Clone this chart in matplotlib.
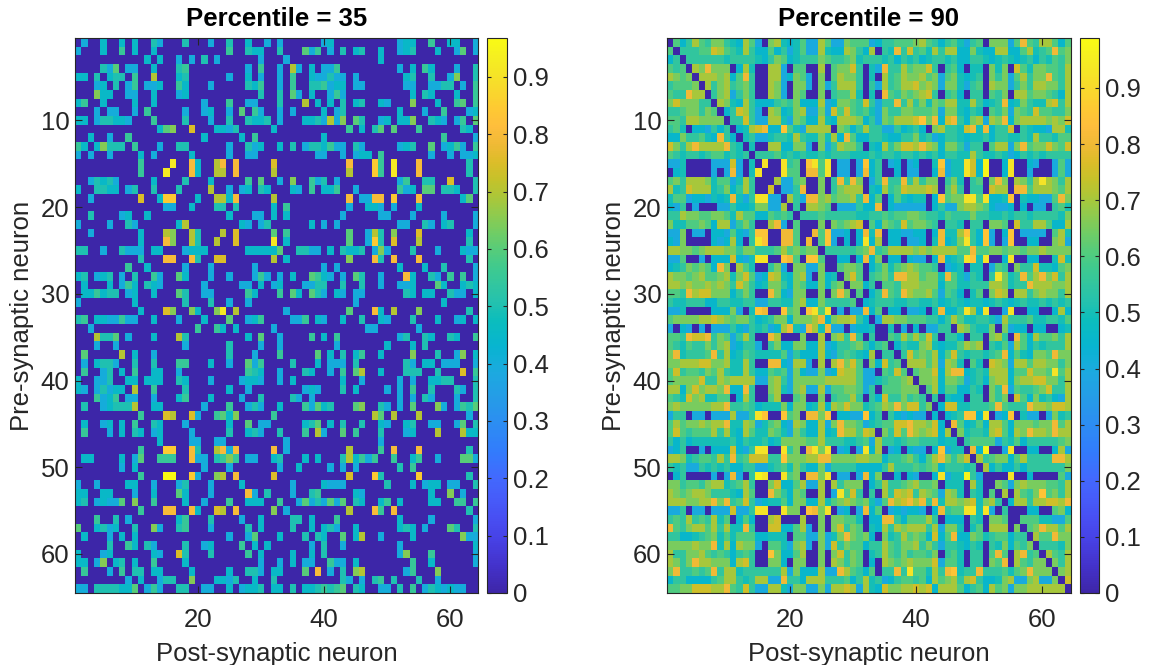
import matplotlib
matplotlib.use("Agg")
import matplotlib.pyplot as plt
import numpy as np
from matplotlib.colors import LinearSegmentedColormap

plt.rcParams['font.family'] = ['Liberation Sans', 'DejaVu Sans']

TITLES = ["Percentile = 35", "Percentile = 90"]
XLABEL = "Post-synaptic neuron"
YLABEL = "Pre-synaptic neuron"
XTICKS = [20, 40, 60]
YTICKS = [10, 20, 30, 40, 50, 60]
CBAR_TICKS = [0, 0.1, 0.2, 0.3, 0.4, 0.5, 0.6, 0.7, 0.8, 0.9]
CBAR_LABELS = ["0", "0.1", "0.2", "0.3", "0.4", "0.5", "0.6", "0.7", "0.8", "0.9"]
VMAX = [0.968, 0.989]

# one letter per cell
LEVELS = {'.': 0.0, 'a': 0.40, 'b': 0.45, 'c': 0.50, 'd': 0.55, 'e': 0.60, 'f': 0.65,
          'g': 0.70, 'h': 0.75, 'i': 0.80, 'j': 0.85, 'k': 0.92, 'l': 0.97}

LEFT_ROWS = [
".a..b..b .b..ca.. .c...a.. c..b..a. a......a b....... ...abb.. d..bb..a",
"a...b..d .b..b... ........ d..cbb.. c...ead. a.c.bc.. b..abc.. .b..ae.a",
"........ ...b.b.. a.a.c.a. .....a.. .a...... ........ b....... ........",
"....cae. aa..b... cd...... ...a.d.. a.ga.b.a ad...... ...a.b.d b...a..c",
"bb.c.bcc .d..g... bc...... a..b.a.. a.d..baa caa.a... ....bc.. c..af..c",
"...ab.c. ad.aab.. db...a.. ...cbd.. a.d..ccd abb.aa.. ....aa.. aacc.a.d",
"...fbb.. aa..b... ab...... .....c.. c.ea.b.. ada..... .....b.c b...b..d",
"bd..b... .b..b... ....a... d..aa... c...g.b. b.c.bc.. ba...f.. .b..de.d",
"...a.aa. .a.d.... .a..ab.. a.e.da.. a.a....b .ac..... ...b...a ..d...ab",
"bb.accbb a...d... .c...a.. c..cbbc. a...bbca gaf.ec.. ab.bbf.. cba.ad.e",
"........ .....bef ..h...bb ac.....b ........ ...d.b.c e.e...d. .....cb.",
"..b..a.. d....... ....b... ..b.d... .......b ........ ........ ..d....a",
"db.bfccc .d...a.. cc...... a..cab.. b.c.accb daa.ca.. ...abc.. e.abda.d",
"a.a..a.. ..b.a... ..b..... a..aa... ......aa ..a.abb. d....... a..a.aab",
"........ ..d....k ..ib..gi .i.....h ........ ...i...j d.k...i. ......c.",
"........ ..d...k. ..ib..gg .i.....g ........ ...g...j d.k...i. ......c.",
"..acbca. ....b... .c...b.. ...d.e.. a.f..dac .a...... ...ad..c c..h...c",
"b..ccbb. ac..c... c....g.. a.ab.cb. ..ba.d.b bd..a... ...dab.e e.ccb..c",
"..a..... ..h..bjj ...b..gg bi.....g ........ ...i.aai i.j...i. .....be.",
"........ ......aa ..b...cc .c.....b .d...... ...a..bb a.a...b. ........",
"..c....a b..b.... ........ b...aa.b .b...... ..a..... aa...a.. ..a....a",
"a....a.. ca...... bg...... ..ba.ac. .....b.a .a...... ...aa..c a.bc...a",
"..a..... ..b...gf ..gc...g .h.....e .d...... ...e..ag c.f...h. ......b.",
"........ ..b...if ..gc..g. .h.....k .b...... ...e..aj c.h...g. ......c.",
"cc..a..c aaa.bb.. .abbb... ...bbbbb e..ccaa. b.cbbc.a fa...c.. .a...baa",
"........ ..c...ii ..ic..hh .......g .b...... ...f...i c.i...i. ......c.",
"........ d..b.... .a...a.. ....a... .......a .a...... ...b...b ..c....a",
"bc.abc.a .c..da.. eb...a.. a...ada. a.b..edb a.a.ec.. a...ib.. ca.d.d.a",
".b...b.a db.cba.. ....a... ..aa.b.a b...aacc ..c..c.. a..aab.. .eb..bcb",
".bbdbcc. ab..b... ec..aa.. ...db... d.eb.eca .ba.aa.. ....cb.b b..caa.b",
"a....... .b...... .c...c.. a..a.... ........ ....a... ........ ..b.....",
"........ ..b...hf ..fb..fk .g...... .a...... ...e...i b.g...f. ......c.",
"cd.bbaad aa..b... a...b... e..abd.. ..aad.ba ..b..c.. ba...c.. .b..ab.b",
"..a..... ........ ...d..db .b.....a ........ ......aa ......a. ........",
"...gcce. a...b... gc...... ...b.e.. a....d.b .d...... ...ac..c b..cb..d",
"...a..a. ........ .a...... c....a.. a....... .a...... .b...b.c ........",
".e.....g .b..a... ........ c...a... d.....e. b.c.bd.. b....f.. .c..af.b",
".a.bcca. .c..c... dd...b.. a..ead.. ..c...b. aaa.c... ....ca.b b.aaa..a",
".d..ac.b .d..bb.. a....... ...dcb.. a...cb.. a.d.eg.. b...ccc. .c...h.d",
"b..aac.. bb.bbb.. cb...a.. ..abba.. a.b..... ..b..a.. ...a.a.. bbcc...c",
"ba.acabb .g..d... .c...... b..a.... ....aba. ..c.b... .a.a.d.. c...ca.c",
"...dabd. aa..a... bd...b.. ..a..c.. ..ca.a.. ........ ...a.a.c a...a..c",
".c..abcc cg..bb.. ....a... d..aca.. b...daeb c...ef.. ca.a.e.. .fa.adce",
"........ ..d...hg ..ha..de bf.....d ........ .......g e.g...g. ......a.",
".b..ab.b .d..cb.. .a...... b..e.aa. ....bce. b.c..c.. ba..bc.. aa..ae.c",
".d...a.b .cb.ab.. ..a..... c..bca.. c...d.ga ..e.d... c...ab.. .g...gbb",
"........ .....b.. ..aa..aa ........ .a...... ........ a....... ........",
"........ ..d...jj ..ic..gi ai.....i .a...... ...g.... d.i...i. ......c.",
".bb....b .ae..ddd ..iaa.cd fd.aa..b c...b.b. ..cgbdad ..d..bd. .a...eea",
".......a .b...... ....a... a....... a..b.... a.a.a... ...c.d.. ........",
"........ ..d...ll ..ja..fg .i.....h ........ ...h...j c.....j. ......c.",
"a..a.... bb..a... ac...a.. ..b..... ..a....b aaa..... .c...b.a bb.aa..c",
"bb..bb.. .a..b... eb...a.. ...ia.c. ..a..cd. ....ba.. ........ b..f.a..",
"bc.abaae .f..d... .b..a... d..bbb.. d..aeaca eae.cb.. bd.b.... bb..dd.d",
"........ ..d...ii ..ib..hg .i.....f .a...... ...g...i d.i..... ......c.",
"...d..c. a....... bd...c.. ..a..b.. ..cc.b.. .d...... ...b.... a......a",
"e..bcab. .c..fa.. cd...a.. ...c.b.. ..c..b.b ca..b... ...bcb.a ...ec..c",
".b...a.b .b...... ........ a..ae... b...c.cb ..e.bg.. a....b.. .....faa",
".....c.. db.ca... .c..ab.. ..d.b.b. .....a.c ..a..... ...a.... .......b",
"b...ab.. ....ba.. hc...c.. ...d.b.. ..b..b.c ........ ...af... d......a",
"bb.af.bc .b..d... .b...... .....a.. a.b.aa.. daa.b... .....d.. b......a",
".d...a.d .cc.bb.. ..b..... b..cca.b b...e.i. a.c.fg.. ....ad.. .f......",
"........ a.b..acc ..f...bb ac..b..c ........ ..ca.a.c d.c...c. .a......",
"aa.ccccb be.ada.. cc..aa.. b.abbc.b b.c.bbcd cde.cb.. aa.c.d.a cbabaa..",
]

RIGHT_ROWS = [
".ebdgedf fdcbgea. fgcbceaa geaafeee abddeeef gedbdeca de.fffae iedggebe",
"e.dddeeh gedcgdbb ebdaceaa gcbbgfdb g.dcidhd ecgdggbb fcbbggbb egcdeief",
"bd.ddddd dcddddcb dfebcddd feddefcd ddcdbdcd bcddcdbb ddcbcdcb cdbdcedf",
"ede.gfif ff.bgc.. gga.ee.. g.effhd. caiddgef fhd.deb. cc.fcf.h ecffeedg",
"gfef.ggg fgbeid.. ggabfea. f.egffd. c.gdegff gefaefcb cd.fdfae gdffiedg",
"deeef.gd fgdefd.. gfa.ffa. fadgggd. dagdeggh fgfaffca de.gffad fdggffdg",
"eddigg.d fgadfd.. gfa.fe.. f.deegc. c.iedfef ghd.deb. dd.edf.g geffedbg",
"fhfffdd. gfcbgdbb bdedfbbb gabffedh daddidgd fcfeggcc gdbcdibc fdccghdg",
"ddeffdfe .bdhgda. gfbcfgaa fahehede cafddffe eefaffcb dc.edfaf edheeddf",
"eedggfff f.ddhdaa ggcafebb gcbgggfb dafegggh jfibhidb fgagfibf ggggfgfh",
"dec.bbad bd.bcghi bbjecagg gg.febdg ddaadbcd b.fgddch icibddh. dcbbaggc",
"bbfddecb idb.cdaa cddcgdcc fcgbiebb ddcbbddf cdabddcb ccdbddcc dcgddcee",
"hfdgiggg gidc.c.. ggbbffa. fadgffd. cbgdfhhg igfbffda dd.eggaf ieffhfeh",
"edcddcde ecdcd.dd decdcdcc dcdddccc dcddcddc dcdbddcc gdccdcab dcdcdddd",
"aac....a aaha.c.k ..kde.jk ek.aa.aj bd.ab.ab ..cjacck hbl..bk. .ba..aea",
".bc....a .aia.ck. ..kee.ii ek.aa.ai bd..b.aa ..biacck hbl..bk. .a...aea",
"efdgggfc eeacgd.. .gaaef.. f.didif. adiddidg dff.dfc. de.fif.g fdgkgfdg",
"gcdhgggc dfbdgd.. h.aadi.. f.dfggg. cbgdehgg ghg.egd. dd.hgg.i iegggfeg",
"ceeabbac bcicadkk aa.gdaii fgeffgdi be.becbc c.bjeffk kekbbcj. cbbaaeif",
"bad.a... aadbbcff aag.d.gg fe.aaadb bi.baaaa a.bdaafg gfebaab. b.aa.dec",
"ddgffeef fecgeebb eded.ddd edddddcc ddedeeff eddceddd fddccdcd dcddddcf",
"fcceefeb ggadfd.. gia.e... f.fefgh. ebfedhef fed.ddc. dd.ffe.h ddggebbg",
"aaf.aa.b baebadjj ..iie..i ejaab.bi ci.bbaab b.biccgj dbja.bj. aaaa.egc",
"baf....b abgb.dkj ..iie.i. eja.b.bk bg.bb.aa b.cibcfk dbja.aj. .bb..fga",
"ggffefgg gffdffdd degefeff .dddddef ideggggf gfggggee ieeffeff effgffff",
"aae..a.b bbhbackk ..jie.jj e..bb.bi bf.bb.ba a.bibcdk jck..bk. .bb..chc",
"bcdfefeb if.gec.. dfa.ffaa f..effe. bdfcefgf eed.abc. cc.aed.f ddhccbef",
"gffefgee fgcfheab hgcbfga. fbc.fhe. defdiigg effcieca dc.dkfcd iegifhdg",
"ggfgffgf gfdhfdbc ffdbfebb fbef.ffb d.eedggg fffbeecc dddggfcd digggffg",
"eedighhf ffbdfd.. ifbaff.. f.fif.e. bdiedigf fgeaedb. ce.fhg.g gdfgffdg",
"dccdddbb ddccddaa ddccfgbb fdddde.b cdddccdd ccdbcdcb ccbcdcbc dccdcdcd",
"aac....b bbfa.cji ..jef.jk ek.a.aai be.bb.aa b.cibbdk gbk..ak. .bb..bgb",
"effffggh gfeffdbc dffbfffg ibfgghdb .aggffee eddbdgec cddcagdd deccddce",
"a.ba.a.a aadbadcd abgicaig ciaa.abb c..c.a.b .aadd.gf dccf.fab b.bb..bc",
"eedihhid feadgd.. ig...f.. g.fgdid. d..edgeg ehd.ddb. dd.fgd.i ebgeefdg",
"edceddfd fgabdda. dfbbffbb gabddefd bde.bdcc fgcbcceg fg.dceag ebdcdddg",
"ficdddei dgbcedcc cceadbbb gbadedcb g.dd.dhe fegbehdc ddcdeibe cbffeiff",
"ffggghhf fgccgd.. iibagga. g.gifhe. fbhde.gg gegagfc. ec.hgfag geggffdf",
"ehdeedfe gdccgdbb edeafbaa fabhggea a.edhe.e ffhbgiib cdcgggbe ehffekeg",
"effffhdd gfggggaa fgdaffff fgggggea acdeefg. ffgbffea cdbfggbf gghhffdg",
"ggbfhfgg fibbid.. fgcafgaa gaeeffea d.eeefff .egbeebb dc.fdiae ddefhddg",
"edchfgcc ee.bgd.. eg..ef.. f.deegd. dbhddfde d.d.cbb. dd.fdf.h ebfcdbag",
"fgfffffg giddedbc ccfbffbc gbgfhffc degfifhh df.bhhcc dddeiedd diggfhhg",
"add.aa.a aagaadkj ..jef.ii fj.bbaaj bd.dbaba a.b.bcdj jbk.abj. caa.afcd",
"egeffgfg giccgfac efbagfbb gafiffea cdeehhig gfhb.ieb cebggebf ffeffieg",
"ehedeeeg dgcbgecc fecafdbb gbciggeh g.fdheig fghbg.fc ddcghebg figgfigg",
"dbdbcccc ccdbdccd bcffffee gdddccde agddcdee dddbcc.d eeeeadce bdddddef",
"abd..a.b bbhbadkk ..kdf.ik fk.ab.ak bg.ab.ba a.bjacc. ibl..ak. .bb..bga",
"ggfcdeed gdidehhh ddjfffgg iiffffgg ffbddefd begifdfh .gdeffbe gddddiig",
"dcdaadcd cdbbddaa cdecfdbb faddddbb bbdgddde defbdddc d.gbdbbd bddddddf",
".bd....a .aia.dlk ..kef.ii fk.aa.ai bf..b.ba ..bkaccl da....k. .b....ea",
"ffdeedfg gcdegd.. fhbbegaa g.gdfff. bdgddefg eef.ccc. gc..feaf gfffeedg",
"gfefggfd ddcbge.. ifdbfe.. g.akehd. d.gdhghd gfeagfc. dc.e.g.g edfjefdg",
"gggffggi fidehdab ccebffbb gcefgfef caeighig idicggfg hcfgd.bg gdgghhgi",
"aad.aa.a aahaadkk ..kff.ji fk.ab.ai be.ababb a.bideek kcka.d.. .bb..efb",
"dedgdedg ce.beb.. gh...g.. f.ffeec. bbiidbee egd.bbb. dc.ffe.. eeeccaae",
"iedfggeg dgccid.. hhbbega. f.fhdfe. cbgdgfgg gdgaffc. ce.ggg.f .efiggeg",
"ddbbcdef ceceeebb ccc.eeaa facfifef b.fcdgef ebhbeibb fecdeebd d.geeiff",
"ffffgffi cgbgffa. eecafga. fahdfeeb ddgedffg dfdaddcb dc.dcfbe df.dddcf",
"gddffged edbded.. jfbbeg.. f.fhdfe. cdgedfde edf.dec. dd.eie.g ide.gedg",
"gfdfiggf ffbghd.. ffb.ff.. f.gfdfe. b.gfefgf ffhaeec. dd.fei.g edff.fdg",
"fiddedei dggcdddd ddgafbbb gaaigedb e.ddidke ecgdijcd didddece fifff.fg",
"bddbbbbd eggdcdgg aaiddbgg gdddebdg cdabdeed ebgefgdg hdbbcfga afgaaf.h",
"eeffhhhg giedhdaa ggcaffaa fagghgag cbhffggh ghbgggeb debgefaf fgggggg.",
]

# MATLAB parula anchors: (entry number of 64, colour)
PARULA = [
 (1,(.2422,.1504,.6603)),(4,(.2647,.1978,.7952)),(7,(.2783,.2559,.8991)),(9,(.2813,.3006,.9414)),
 (11,(.2795,.3447,.9717)),(14,(.2602,.4123,.9952)),(17,(.1963,.4847,.9892)),(20,(.1764,.5499,.9520)),
 (23,(.1460,.6091,.9079)),(26,(.1113,.6635,.8763)),(29,(.0297,.7082,.8163)),(32,(.0433,.7411,.7394)),
 (34,(.1408,.7584,.6842)),(36,(.1938,.7758,.6251)),(38,(.2470,.7918,.5567)),(40,(.3406,.8008,.4789)),
 (42,(.4456,.8024,.3909)),(44,(.5616,.7942,.3045)),(46,(.6720,.7793,.2227)),(48,(.7738,.7598,.1646)),
 (50,(.8634,.7406,.1596)),(52,(.9393,.7288,.2100)),(54,(.9956,.7434,.2371)),(56,(.9952,.7861,.1999)),
 (58,(.9786,.8422,.1766)),(60,(.9610,.8960,.1530)),(62,(.9628,.9373,.1265)),(64,(.9769,.9839,.0805)),
]
parula = LinearSegmentedColormap.from_list("parula", [((n - 1) / 63, c) for n, c in PARULA], N=256)


def decode(rows):
    out = []
    for i, row in enumerate(rows):
        groups = row.split()
        for g in groups:
            if len(g) != 8:
                raise ValueError(f"row {i+1}: bad group {g!r}")
        if len(groups) != 8:
            raise ValueError(f"row {i+1}: {len(groups)} groups")
        out.append([LEVELS[c] for c in "".join(groups)])
    return np.array(out)


W, H = 1149, 665
DARK = "#262626"
FS = 18.5
fig = plt.figure(figsize=(W / 100, H / 100), dpi=100)


def box(x0, x1, y0, y1):
    return [x0 / W, 1 - y1 / H, (x1 - x0) / W, (y1 - y0) / H]


panels = [
    (decode(LEFT_ROWS), box(75, 478.5, 38, 593), box(487, 507, 38, 593), VMAX[0], TITLES[0]),
    (decode(RIGHT_ROWS), box(667, 1070.5, 38, 593), box(1080, 1099, 38, 593), VMAX[1], TITLES[1]),
]

for data, ax_box, cb_box, vmax, title in panels:
    ax = fig.add_axes(ax_box)
    im = ax.imshow(data, cmap=parula, vmin=0, vmax=vmax, aspect="auto",
                   interpolation="nearest", extent=(0.5, 64.5, 64.5, 0.5))
    ax.set_xticks(XTICKS)
    ax.set_yticks(YTICKS)
    ax.tick_params(direction="in", length=5, width=0.8, color=DARK, labelcolor=DARK,
                   labelsize=FS, pad=4, top=True, right=True)
    ax.tick_params(axis="x", pad=11)
    for s in ax.spines.values():
        s.set_linewidth(0.8)
        s.set_color(DARK)
    ax.set_xlabel(XLABEL, fontsize=FS, color=DARK, labelpad=7)
    ax.set_ylabel(YLABEL, fontsize=FS, color=DARK, labelpad=5)
    ax.set_title(title, fontsize=18.5, fontweight="bold", color="black", pad=9)

    cax = fig.add_axes(cb_box)
    cb = fig.colorbar(im, cax=cax)
    cb.set_ticks(CBAR_TICKS)
    cb.set_ticklabels(CBAR_LABELS)
    cb.ax.tick_params(direction="in", length=3, width=0.8, color=DARK, labelcolor=DARK,
                      labelsize=FS, pad=4, left=True, right=True)
    cb.outline.set_linewidth(0.8)
    cb.outline.set_edgecolor(DARK)

fig.savefig("out.png", dpi=100)
